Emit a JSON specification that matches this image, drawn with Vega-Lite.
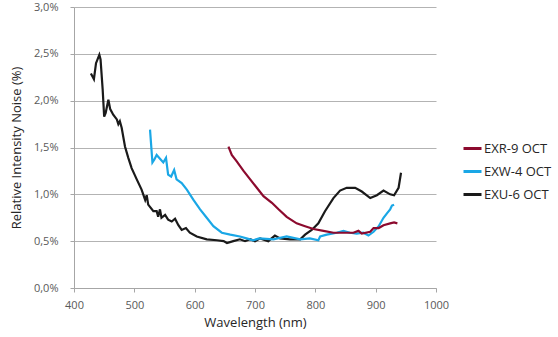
{
  "$schema": "https://vega.github.io/schema/vega-lite/v6.json",
  "width": 362,
  "height": 281,
  "autosize": {"type": "none"},
  "padding": {"left": 74, "top": 7, "right": 122, "bottom": 49},
  "background": "white",
  "data": {"values": [
    {"s":"EXU-6 OCT","x":428,"y":2.29},{"s":"EXU-6 OCT","x":433,"y":2.23},{"s":"EXU-6 OCT","x":436.5,"y":2.40},{"s":"EXU-6 OCT","x":442,"y":2.49},{"s":"EXU-6 OCT","x":444,"y":2.44},{"s":"EXU-6 OCT","x":447.5,"y":2.12},{"s":"EXU-6 OCT","x":450,"y":1.83},{"s":"EXU-6 OCT","x":452.5,"y":1.87},{"s":"EXU-6 OCT","x":457,"y":2.01},{"s":"EXU-6 OCT","x":460,"y":1.91},{"s":"EXU-6 OCT","x":465,"y":1.85},{"s":"EXU-6 OCT","x":471,"y":1.80},{"s":"EXU-6 OCT","x":473.5,"y":1.75},{"s":"EXU-6 OCT","x":476,"y":1.78},{"s":"EXU-6 OCT","x":479,"y":1.71},{"s":"EXU-6 OCT","x":484.5,"y":1.51},{"s":"EXU-6 OCT","x":490,"y":1.39},{"s":"EXU-6 OCT","x":495.5,"y":1.28},{"s":"EXU-6 OCT","x":504,"y":1.16},{"s":"EXU-6 OCT","x":512,"y":1.05},{"s":"EXU-6 OCT","x":518,"y":0.94},{"s":"EXU-6 OCT","x":520.5,"y":0.99},{"s":"EXU-6 OCT","x":523,"y":0.89},{"s":"EXU-6 OCT","x":531.5,"y":0.82},{"s":"EXU-6 OCT","x":537,"y":0.82},{"s":"EXU-6 OCT","x":539.5,"y":0.76},{"s":"EXU-6 OCT","x":542.5,"y":0.84},{"s":"EXU-6 OCT","x":545,"y":0.75},{"s":"EXU-6 OCT","x":551,"y":0.78},{"s":"EXU-6 OCT","x":556,"y":0.73},{"s":"EXU-6 OCT","x":562,"y":0.71},{"s":"EXU-6 OCT","x":567.5,"y":0.74},{"s":"EXU-6 OCT","x":573,"y":0.67},{"s":"EXU-6 OCT","x":578.5,"y":0.62},{"s":"EXU-6 OCT","x":585.5,"y":0.64},{"s":"EXU-6 OCT","x":592,"y":0.59},{"s":"EXU-6 OCT","x":603.5,"y":0.55},{"s":"EXU-6 OCT","x":620,"y":0.52},{"s":"EXU-6 OCT","x":637,"y":0.51},{"s":"EXU-6 OCT","x":648,"y":0.50},{"s":"EXU-6 OCT","x":653.5,"y":0.48},{"s":"EXU-6 OCT","x":664,"y":0.50},{"s":"EXU-6 OCT","x":675,"y":0.52},{"s":"EXU-6 OCT","x":683.5,"y":0.50},{"s":"EXU-6 OCT","x":692,"y":0.52},{"s":"EXU-6 OCT","x":700,"y":0.50},{"s":"EXU-6 OCT","x":708.5,"y":0.53},{"s":"EXU-6 OCT","x":722,"y":0.50},{"s":"EXU-6 OCT","x":733,"y":0.56},{"s":"EXU-6 OCT","x":741.5,"y":0.53},{"s":"EXU-6 OCT","x":758,"y":0.52},{"s":"EXU-6 OCT","x":775,"y":0.52},{"s":"EXU-6 OCT","x":783,"y":0.57},{"s":"EXU-6 OCT","x":794,"y":0.62},{"s":"EXU-6 OCT","x":805,"y":0.69},{"s":"EXU-6 OCT","x":816,"y":0.82},{"s":"EXU-6 OCT","x":830,"y":0.96},{"s":"EXU-6 OCT","x":841,"y":1.04},{"s":"EXU-6 OCT","x":852,"y":1.07},{"s":"EXU-6 OCT","x":866,"y":1.07},{"s":"EXU-6 OCT","x":877,"y":1.03},{"s":"EXU-6 OCT","x":891,"y":0.96},{"s":"EXU-6 OCT","x":902,"y":0.99},{"s":"EXU-6 OCT","x":913,"y":1.04},{"s":"EXU-6 OCT","x":924,"y":1.00},{"s":"EXU-6 OCT","x":930.5,"y":0.99},{"s":"EXU-6 OCT","x":938,"y":1.07},{"s":"EXU-6 OCT","x":942,"y":1.23},
    {"s":"EXW-4 OCT","x":526,"y":1.69},{"s":"EXW-4 OCT","x":530,"y":1.34},{"s":"EXW-4 OCT","x":533,"y":1.37},{"s":"EXW-4 OCT","x":537,"y":1.42},{"s":"EXW-4 OCT","x":542.5,"y":1.38},{"s":"EXW-4 OCT","x":548,"y":1.34},{"s":"EXW-4 OCT","x":552.5,"y":1.39},{"s":"EXW-4 OCT","x":556,"y":1.21},{"s":"EXW-4 OCT","x":561,"y":1.19},{"s":"EXW-4 OCT","x":566,"y":1.26},{"s":"EXW-4 OCT","x":570,"y":1.16},{"s":"EXW-4 OCT","x":578.5,"y":1.12},{"s":"EXW-4 OCT","x":587,"y":1.05},{"s":"EXW-4 OCT","x":598,"y":0.94},{"s":"EXW-4 OCT","x":609,"y":0.84},{"s":"EXW-4 OCT","x":620,"y":0.75},{"s":"EXW-4 OCT","x":631,"y":0.66},{"s":"EXW-4 OCT","x":645,"y":0.59},{"s":"EXW-4 OCT","x":659,"y":0.57},{"s":"EXW-4 OCT","x":675,"y":0.55},{"s":"EXW-4 OCT","x":686,"y":0.53},{"s":"EXW-4 OCT","x":697,"y":0.51},{"s":"EXW-4 OCT","x":707,"y":0.53},{"s":"EXW-4 OCT","x":730.5,"y":0.52},{"s":"EXW-4 OCT","x":752.5,"y":0.55},{"s":"EXW-4 OCT","x":775,"y":0.52},{"s":"EXW-4 OCT","x":791,"y":0.53},{"s":"EXW-4 OCT","x":805,"y":0.51},{"s":"EXW-4 OCT","x":808,"y":0.55},{"s":"EXW-4 OCT","x":819,"y":0.57},{"s":"EXW-4 OCT","x":835.5,"y":0.59},{"s":"EXW-4 OCT","x":846.5,"y":0.61},{"s":"EXW-4 OCT","x":857.5,"y":0.59},{"s":"EXW-4 OCT","x":868.5,"y":0.58},{"s":"EXW-4 OCT","x":879.5,"y":0.59},{"s":"EXW-4 OCT","x":888,"y":0.56},{"s":"EXW-4 OCT","x":896.5,"y":0.60},{"s":"EXW-4 OCT","x":905,"y":0.66},{"s":"EXW-4 OCT","x":913,"y":0.75},{"s":"EXW-4 OCT","x":919,"y":0.80},{"s":"EXW-4 OCT","x":924,"y":0.84},{"s":"EXW-4 OCT","x":927,"y":0.88},{"s":"EXW-4 OCT","x":930.5,"y":0.89},
    {"s":"EXR-9 OCT","x":656,"y":1.51},{"s":"EXR-9 OCT","x":661.5,"y":1.42},{"s":"EXR-9 OCT","x":670,"y":1.35},{"s":"EXR-9 OCT","x":681,"y":1.25},{"s":"EXR-9 OCT","x":692,"y":1.16},{"s":"EXR-9 OCT","x":703,"y":1.07},{"s":"EXR-9 OCT","x":714,"y":0.98},{"s":"EXR-9 OCT","x":728,"y":0.91},{"s":"EXR-9 OCT","x":739,"y":0.84},{"s":"EXR-9 OCT","x":752.5,"y":0.76},{"s":"EXR-9 OCT","x":769,"y":0.69},{"s":"EXR-9 OCT","x":783,"y":0.66},{"s":"EXR-9 OCT","x":797,"y":0.63},{"s":"EXR-9 OCT","x":813.5,"y":0.61},{"s":"EXR-9 OCT","x":830,"y":0.59},{"s":"EXR-9 OCT","x":846.5,"y":0.59},{"s":"EXR-9 OCT","x":863,"y":0.59},{"s":"EXR-9 OCT","x":871.5,"y":0.61},{"s":"EXR-9 OCT","x":877,"y":0.58},{"s":"EXR-9 OCT","x":891,"y":0.60},{"s":"EXR-9 OCT","x":896.5,"y":0.64},{"s":"EXR-9 OCT","x":905,"y":0.64},{"s":"EXR-9 OCT","x":913,"y":0.67},{"s":"EXR-9 OCT","x":924,"y":0.69},{"s":"EXR-9 OCT","x":930.5,"y":0.70},{"s":"EXR-9 OCT","x":936,"y":0.69}
  ]},
  "mark": {"type": "line", "strokeWidth": 2.2, "interpolate": "linear"},
  "encoding": {
    "x": {"field": "x", "type": "quantitative",
      "scale": {"domain": [400, 1000], "nice": false, "zero": false},
      "axis": {"values": [400,500,600,700,800,900,1000], "format": "d", "title": "Wavelength (nm)", "grid": false,
        "labelFlush": false, "labelOverlap": false,
        "domainColor": "#a6a6a6", "tickColor": "#a6a6a6", "tickSize": 4,
        "labelColor": "#595959", "labelFont": "Open Sans", "labelFontSize": 11, "labelPadding": 7,
        "titleFont": "Open Sans", "titleFontSize": 13, "titleFontWeight": "normal", "titleColor": "#262626", "titlePadding": 6}},
    "y": {"field": "y", "type": "quantitative",
      "scale": {"domain": [0, 3], "nice": false},
      "axis": {"values": [0,0.5,1,1.5,2,2.5,3], "title": "Relative Intensity Noise (%)",
        "labelExpr": "replace(format(datum.value, '.1f'), '.', ',') + '%'",
        "labelFlush": false, "labelOverlap": false,
        "grid": true, "gridColor": "#b3b3b3", "gridWidth": 1,
        "domainColor": "#a6a6a6", "tickColor": "#a6a6a6", "tickSize": 4,
        "labelColor": "#595959", "labelFont": "Open Sans", "labelFontSize": 11, "labelPadding": 12,
        "titleFont": "Open Sans", "titleFontSize": 13, "titleFontWeight": "normal", "titleColor": "#262626", "titlePadding": 10}},
    "color": {"field": "s", "type": "nominal",
      "scale": {"domain": ["EXR-9 OCT","EXW-4 OCT","EXU-6 OCT"], "range": ["#8c0a2e","#1aa7e6","#1a1a1a"]},
      "legend": {"title": null, "orient": "none", "legendX": 388, "legendY": 131,
        "symbolType": "stroke", "symbolSize": 324, "symbolStrokeWidth": 3,
        "labelFont": "Open Sans", "labelFontSize": 13, "labelColor": "#262626", "labelOffset": 1, "rowPadding": 5}}
  },
  "config": {"view": {"stroke": null}}
}
